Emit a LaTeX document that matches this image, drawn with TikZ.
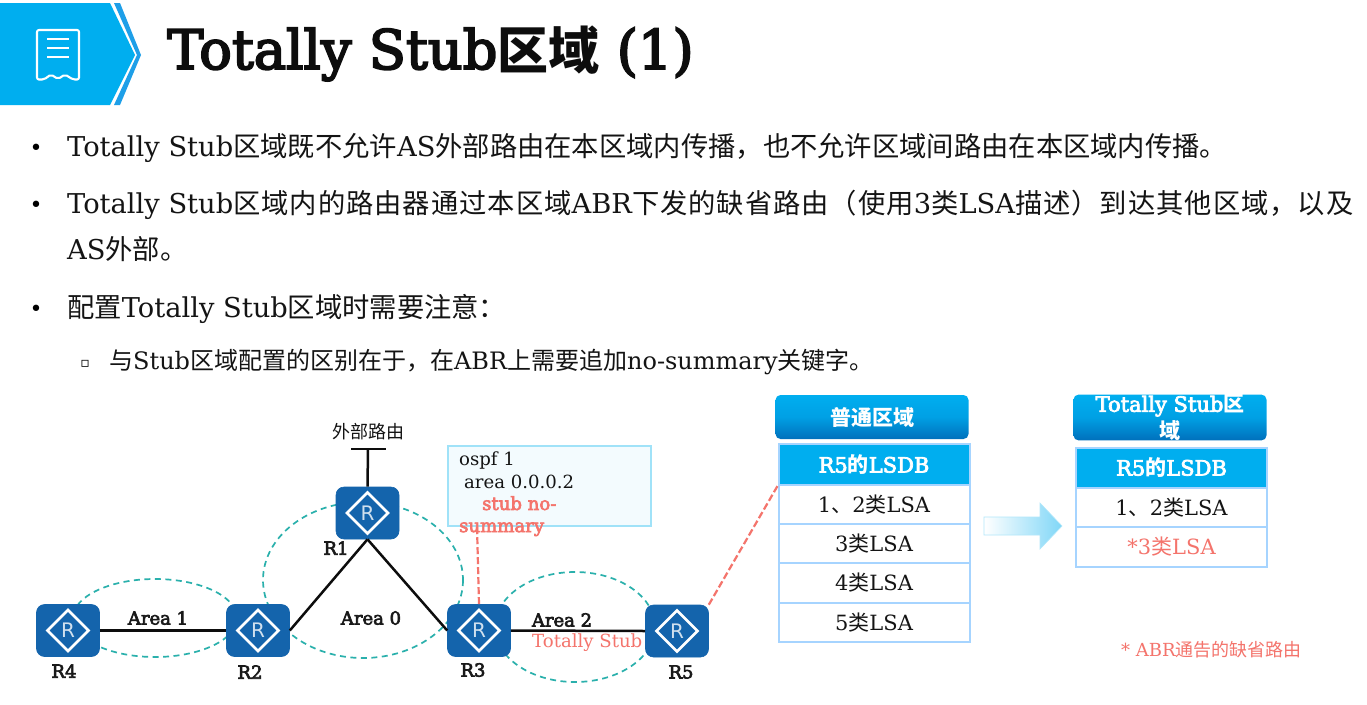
\documentclass[tikz,border=0pt]{standalone}
\usepackage{fontspec}
\setmainfont{DejaVu Serif}
\newfontfamily\fb[FakeBold=3.5]{DejaVu Serif}
\newfontfamily\zhfont{Noto Sans CJK SC}
\newfontfamily\symfont{DejaVu Sans}
\newcommand\zh[1]{{\zhfont #1}}
\newcommand\zb[1]{{\zhfont\bfseries #1}}
\newcommand\zhs[1]{{\zhfont\addfontfeature{LetterSpace=3.6}#1}}
\newcommand\fsz[1]{\fontsize{#1}{#1}\selectfont}
\usetikzlibrary{shapes.geometric,calc}
\definecolor{routerblue}{HTML}{1464AC}
\definecolor{skyb}{HTML}{00AEEF}
\definecolor{midb}{HTML}{00A0E4}
\definecolor{lowb}{HTML}{0070BC}
\definecolor{bandb}{HTML}{1E9FE8}
\definecolor{tealdash}{HTML}{2AB0AC}
\definecolor{redtxt}{HTML}{F4746C}
\definecolor{rowline}{HTML}{A6D4FF}
\definecolor{notefill}{HTML}{F3FBFE}
\definecolor{noteline}{HTML}{A0E2F8}
\tikzset{
  router/.style={draw=routerblue,fill=routerblue,rounded corners=8pt,minimum width=63pt,minimum height=52pt,inner sep=0pt,line width=0.6pt},
  rlabel/.style={font=\fsz{18}\fb,inner sep=0pt,text=black!90},
  arealabel/.style={font=\fsz{18}\fb,inner sep=0pt,text=black!90},
  area/.style={draw=tealdash,dashed,dash pattern=on 6pt off 4.5pt,line width=1.7pt},
  link/.style={draw=black!95,line width=2.5pt},
  redlink/.style={draw=redtxt,dashed,dash pattern=on 7pt off 3pt,line width=2.2pt},
  bodytext/.style={anchor=base west,inner sep=0pt,font=\fsz{27.3},text=black!92},
  subtext/.style={anchor=base west,inner sep=0pt,font=\fsz{24},text=black!92},
  rowcell/.style={draw=rowline,fill=white,line width=2pt,minimum width=191pt,minimum height=39.2pt,inner sep=0pt,font=\fsz{21},text=black!92},
  headcell/.style={rowcell,fill=skyb,text=white,font=\fsz{21}\fb},
  tophead/.style={rounded corners=5pt,minimum width=193pt,minimum height=44pt,inner sep=0pt,top color=skyb,bottom color=lowb,middle color=midb,text=white,font=\fsz{21}\fb,align=center},
}
\newcommand\routerat[2]{%
  \node[router] (#1) at (#2) {};
  \draw[white,line width=2.8pt,line join=miter] ($(#1)+(-20.5,0)$) -- ($(#1)+(0,-20.5)$) -- ($(#1)+(20.5,0)$) -- ($(#1)+(0,20.5)$) -- cycle;
  \node[inner sep=0pt,text=white!80!routerblue,font=\fsz{20}\symfont] at (#1) {R};
}
\begin{document}
\begin{tikzpicture}[x=1pt,y=-1pt]
\useasboundingbox[fill=white] (0,0) rectangle (1367,704);
% banner
\fill[skyb] (0,3) -- (110,3) -- (135,55) -- (110,105) -- (0,105) -- cycle;
\fill[bandb] (114,3) -- (120,3) -- (141,55) -- (120,105) -- (114,105) -- (137,55) -- cycle;
\draw[white,line width=2.1pt,line join=round,rounded corners=2pt] (37,30) -- (79,30) -- (79,79.5) -- (73,79.5) -- (65,74.5) -- (58,79) -- (51,74.5) -- (44,79.5) -- (37,79.5) -- cycle;
\draw[white,line width=2.1pt] (47,39) -- (69,39) (47,48) -- (69,48) (47,57) -- (69,57);
\node[anchor=base west,inner sep=0pt,font=\fsz{54.3}\fb,text=black!95] (title) at (167,69) {Totally Stub{\zhfont\bfseries\fsz{51}区域} (1)};
% bullets
\node[anchor=base,inner sep=0pt,font=\fsz{22}] (b1) at (36,155) {•};
\node[bodytext] (t1) at (67,156) {Totally Stub\zh{区域既不允许}AS\zh{外部路由在本区域内传播，也不允许区域间路由在本区域内传播。}};
\node[anchor=base,inner sep=0pt,font=\fsz{22}] (b2) at (36,212) {•};
\node[bodytext] (t2) at (67,213) {Totally Stub\zhs{区域内的路由器通过本区域}ABR\zhs{下发的缺省路由（使用}3\zhs{类}LSA\zhs{描述）到达其他区域，以及}};
\node[bodytext] (t2b) at (67,259.5) {AS\zh{外部。}};
\node[anchor=base,inner sep=0pt,font=\fsz{22}] (b3) at (36,316) {•};
\node[bodytext] (t3) at (67,317) {\zh{配置}Totally Stub\zh{区域时需要注意：}};
\node[anchor=base,inner sep=0pt,font=\fsz{14}\symfont] (b4) at (85,367) {▫};
\node[subtext] (t4) at (109,369) {\zh{与}Stub\zh{区域配置的区别在于，在}ABR\zh{上需要追加}no-summary\zh{关键字。}};
% areas
\draw[area] (155,618) ellipse [x radius=82,y radius=39];
\draw[area] (363,580) ellipse [x radius=100,y radius=78];
\draw[area] (575,627) ellipse [x radius=80,y radius=55];
% note
\node[draw=noteline,fill=notefill,line width=2pt,minimum width=203pt,minimum height=80pt,inner sep=0pt] (note) at (549.5,485.5) {};
% routers
\routerat{R1}{367.5,513}
\routerat{R2}{258,630.5}
\routerat{R3}{479,630.5}
\routerat{R4}{68,630.5}
\routerat{R5}{677,631}
% external route
\coordinate (extb) at (368,449);
\coordinate (extl) at (351,449);
\coordinate (extr) at (386,449);
\draw[link] (R1.north) -- (extb);
\draw[link] (extl) -- (extr);
\node[inner sep=0pt,font=\fsz{18}\zhfont,text=black!92] (ext) at (368,432) {外部路由};
% links
\draw[link] (R1.south) -- (R2.east);
\draw[link] (R1.south) -- (R3.west);
\draw[link] (R4.east) -- (R2.west);
\draw[link] (R3.east) -- (R5.west);
\draw[redlink] (R3.north) -- ([xshift=-2pt]R3.north |- note.south);
% router names
\node[rlabel] (lr1) at (336,548) {R1};
\node[rlabel] (lr2) at (250,672) {R2};
\node[rlabel] (lr3) at (473,670) {R3};
\node[rlabel] (lr4) at (64,671) {R4};
\node[rlabel] (lr5) at (681,672) {R5};
\node[arealabel] (a1) at (158,618) {Area 1};
\node[arealabel] (a0) at (371,618) {Area 0};
\node[arealabel] (a2) at (562,620) {Area 2};
\node[inner sep=0pt,font=\fsz{18.1},text=redtxt,anchor=base west] (ts) at (532,647) {Totally Stub};
% note text
\node[anchor=north west,inner sep=0pt,align=left,font=\fsz{18.1},text=black!92] (nt) at (459,452) {ospf 1\\[4pt]\hspace*{5pt}area 0.0.0.2};
\node[anchor=north west,inner sep=0pt,align=left,font=\fsz{18.1}\fb,text=redtxt] (nr) at (459,496) {\hspace*{23pt}stub no-\\[4pt]summary};
% left table
\node[tophead] (h1) at (872,417) {\zb{普通区域}};
\node[headcell,minimum height=41pt] (l0) at (874,464.5) {R5\zb{的}LSDB};
\node[rowcell] (l1) at (874,504.5) {1\zh{、}2\zh{类}LSA};
\node[rowcell] (l2) at (874,544) {3\zh{类}LSA};
\node[rowcell] (l3) at (874,583) {4\zh{类}LSA};
\node[rowcell] (l4) at (874,622.5) {5\zh{类}LSA};
\draw[redlink] (R5.north east) -- (l0.south west);
% arrow
\shade[left color=white,right color=skyb!50,draw=white!70!skyb,line width=0.6pt] (984,517) -- (1040,517) -- (1040,503) -- (1062,526) -- (1040,549) -- (1040,535) -- (984,535) -- cycle;
% right table
\node[tophead,minimum height=45pt] (h2) at (1170,417.5) {Totally Stub\zb{区}\\[3pt]\zb{域}};
\node[headcell,minimum height=40pt] (r0) at (1171.5,467.5) {R5\zb{的}LSDB};
\node[rowcell,minimum height=40pt] (r1) at (1171.5,507.5) {1\zh{、}2\zh{类}LSA};
\node[rowcell,text=redtxt,minimum height=40pt] (r2) at (1171.5,547) {*3\zh{类}LSA};
\node[inner sep=0pt,anchor=base west,font=\fsz{18},text=redtxt] (foot) at (1121,656) {* ABR\zh{通告的缺省路由}};
\end{tikzpicture}
\end{document}
